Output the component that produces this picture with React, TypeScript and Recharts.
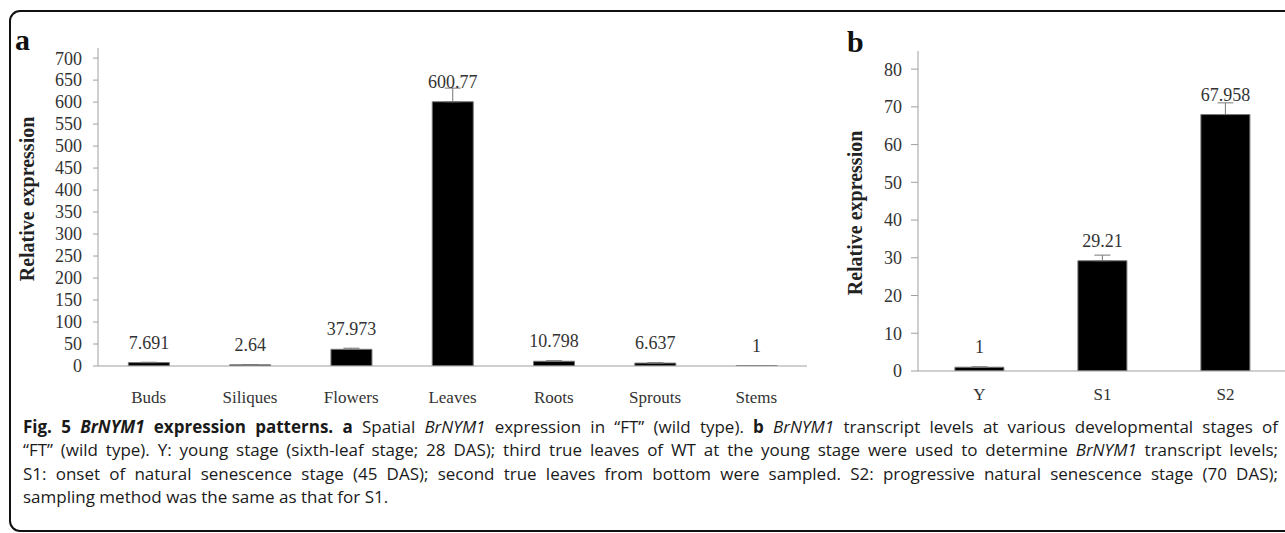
import React from 'react';
import { BarChart, Bar, XAxis, YAxis, ErrorBar, LabelList } from 'recharts';

// panel a: tissues
const tissues = ['Buds', 'Siliques', 'Flowers', 'Leaves', 'Roots', 'Sprouts', 'Stems'];
const tissueValues = [7.691, 2.64, 37.973, 600.77, 10.798, 6.637, 1];
const tissueErrors = [0.8, 0.4, 2.5, 31, 1.2, 0.8, 0.1];
const tissueTicks = [0, 50, 100, 150, 200, 250, 300, 350, 400, 450, 500, 550, 600, 650, 700];
const tissueMax = 723;

// panel b: developmental stages
const stages = ['Y', 'S1', 'S2'];
const stageValues = [1, 29.21, 67.958];
const stageErrors = [0.1, 1.5, 3.1];
const stageTicks = [0, 10, 20, 30, 40, 50, 60, 70, 80];
const stageMax = 84.8;

const serif = "'Liberation Serif', 'Times New Roman', serif";
const axisGray = '#a0a0a0';
const boxGray = '#8a8a8a';
const textColor = '#333';

const tissueData = tissues.map((name, i) => ({ name, value: tissueValues[i], err: [0, tissueErrors[i]] }));
const stageData = stages.map((name, i) => ({ name, value: stageValues[i], err: [0, stageErrors[i]] }));

const yTitle = (dx: number, dy: number) => (props: any) => {
    const { x, y, height } = props.viewBox;
    const cx = x + dx;
    const cy = y + height / 2 + dy;
    return (
        <text
            x={cx}
            y={cy}
            transform={`rotate(-90 ${cx} ${cy})`}
            textAnchor="middle"
            dominantBaseline="central"
            fontFamily={serif}
            fontWeight="bold"
            fontSize={20}
            fill="#222"
        >
            Relative expression
        </text>
    );
};

const PanelChart = ({ data, ticks, max, width, height, margin, xHeight, xTickMargin, yTickSize, yTickMargin, titleDx, titleDy }: any) => (
    <BarChart width={width} height={height} data={data} margin={margin} barCategoryGap="30%">
        <XAxis
            dataKey="name"
            height={xHeight}
            tickLine={false}
            tickSize={0}
            tickMargin={xTickMargin}
            axisLine={{ stroke: axisGray }}
            tick={{ fill: textColor, fontSize: 17, fontFamily: serif }}
            interval={0}
        />
        <XAxis xAxisId="top" orientation="top" dataKey="name" height={0} tick={false} tickLine={false} axisLine={{ stroke: boxGray }} />
        <YAxis
            width={98}
            domain={[0, max]}
            ticks={ticks}
            interval={0}
            allowDataOverflow
            tickSize={yTickSize}
            tickMargin={yTickMargin}
            tickLine={{ stroke: axisGray }}
            axisLine={{ stroke: axisGray }}
            tick={{ fill: textColor, fontSize: 18, fontFamily: serif }}
            label={{ content: yTitle(titleDx, titleDy) }}
        />
        <YAxis yAxisId="right" orientation="right" width={0} domain={[0, max]} tick={false} tickLine={false} axisLine={{ stroke: boxGray }} />
        <Bar dataKey="value" fill="#000" stroke="#777" strokeWidth={1} isAnimationActive={false}>
            <ErrorBar dataKey="err" width={8} stroke="#777" strokeWidth={1} direction="y" isAnimationActive={false} />
            <LabelList dataKey="value" position="top" offset={14} fill={textColor} fontSize={18} fontFamily={serif} />
        </Bar>
    </BarChart>
);

const captionFont = "'Open Sans', 'Noto Sans', sans-serif";
const lineStyle: React.CSSProperties = { textAlign: 'justify', textAlignLast: 'justify', whiteSpace: 'nowrap' };

export default function App() {
    return (
        <div style={{ position: 'absolute', left: 0, top: 0, width: 1285, height: 533, overflow: 'hidden', background: '#fff' }}>
            <div style={{ position: 'absolute', left: 9, top: 10, width: 1320, height: 522, border: '2.5px solid #111', borderRadius: 11, boxSizing: 'border-box' }} />
            <div style={{ position: 'absolute', left: 15, top: 25, fontFamily: serif, fontWeight: 'bold', fontSize: 30, lineHeight: 1, color: '#111' }}>a</div>
            <div style={{ position: 'absolute', left: 847, top: 27, fontFamily: serif, fontWeight: 'bold', fontSize: 30, lineHeight: 1, color: '#111' }}>b</div>
            <div style={{ position: 'absolute', left: 0, top: 0 }}>
                <PanelChart
                    data={tissueData}
                    ticks={tissueTicks}
                    max={tissueMax}
                    width={830}
                    height={420}
                    margin={{ top: 48, right: 23, bottom: 0, left: 0 }}
                    xHeight={54}
                    xTickMargin={25}
                    yTickSize={5}
                    yTickMargin={11}
                    titleDx={27}
                    titleDy={-8}
                />
            </div>
            <div style={{ position: 'absolute', left: 820, top: 0 }}>
                <PanelChart
                    data={stageData}
                    ticks={stageTicks}
                    max={stageMax}
                    width={480}
                    height={420}
                    margin={{ top: 51, right: 13, bottom: 0, left: 0 }}
                    xHeight={49}
                    xTickMargin={17}
                    yTickSize={7}
                    yTickMargin={9}
                    titleDx={35}
                    titleDy={2}
                />
            </div>
            <div style={{ position: 'absolute', left: 23, top: 415, width: 1255, fontFamily: captionFont, fontSize: 17, lineHeight: '23.3px', color: '#1a1a1a' }}>
                <div style={lineStyle}>
                    <b>Fig. 5 <i>BrNYM1</i> expression patterns.</b> <b>a</b> Spatial <i>BrNYM1</i> expression in “FT” (wild type). <b>b</b> <i>BrNYM1</i> transcript levels at various developmental stages of
                </div>
                <div style={lineStyle}>
                    “FT” (wild type). Y: young stage (sixth-leaf stage; 28 DAS); third true leaves of WT at the young stage were used to determine <i>BrNYM1</i> transcript levels;
                </div>
                <div style={lineStyle}>
                    S1: onset of natural senescence stage (45 DAS); second true leaves from bottom were sampled. S2: progressive natural senescence stage (70 DAS);
                </div>
                <div style={{ whiteSpace: 'nowrap' }}>sampling method was the same as that for S1.</div>
            </div>
        </div>
    );
}
